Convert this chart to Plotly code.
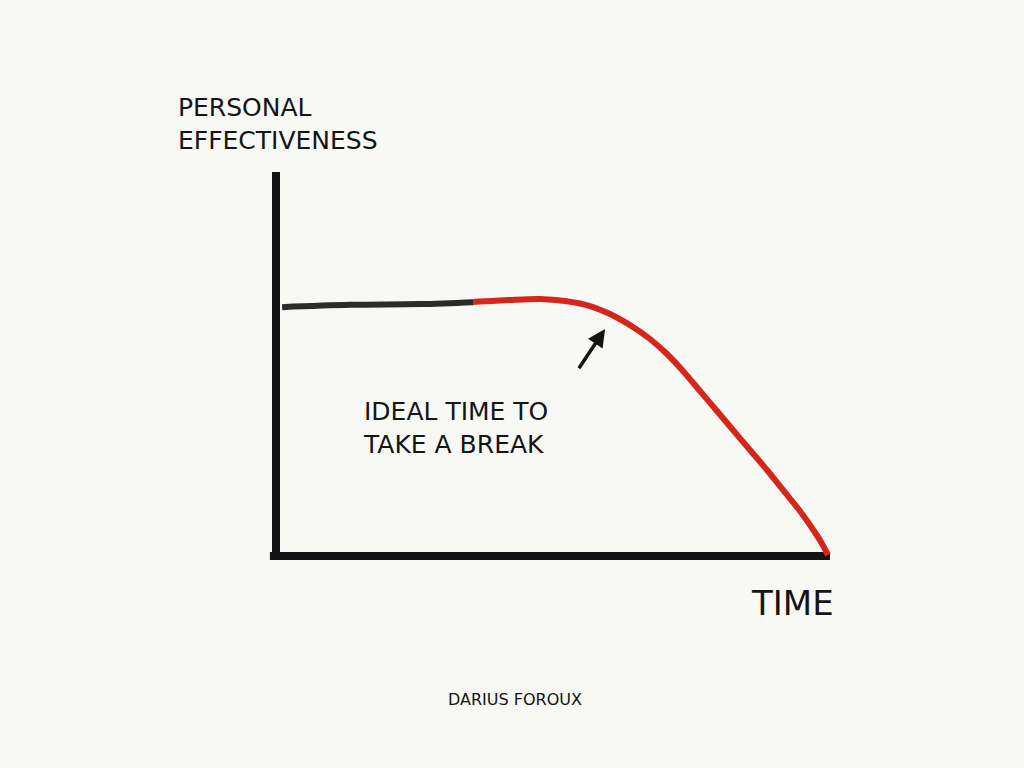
"""
Effectiveness over time sketch: flat plateau, then a drop-off.
Hand-drawn style chart recreated in Plotly.
"""

import plotly.graph_objects as go

# time (0-100) vs personal effectiveness (0-100)
T_PLATEAU = [1.1, 13.4, 26.0, 35.6]
E_PLATEAU = [64.8, 65.4, 65.6, 66.1]

T_DECLINE = [35.56, 42.24, 47.65, 52.17, 56.68, 60.29, 64.44, 67.51, 70.58, 73.47,
             76.53, 79.60, 82.49, 85.56, 88.63, 91.52, 94.58, 96.75, 98.38, 99.64]
E_DECLINE = [66.15, 66.67, 66.93, 66.41, 65.10, 63.02, 59.64, 56.51, 52.60, 48.18,
             42.97, 37.76, 32.81, 27.60, 22.40, 17.19, 11.72, 7.29, 3.65, 0.26]

AXIS_T = [0, 100]
AXIS_E = [0, 100]

BG = "#f8f8f4"
INK = "#141414"
RED = "#d4261b"
FONT = "DejaVu Sans"

fig = go.Figure()

# axes drawn as strokes
fig.add_trace(go.Scatter(x=[AXIS_T[0], AXIS_T[0]], y=[AXIS_E[1], AXIS_E[0] - 0.6],
                         mode="lines", line=dict(color=INK, width=8),
                         hoverinfo="skip", showlegend=False))
fig.add_trace(go.Scatter(x=[AXIS_T[0] - 1.1, AXIS_T[1]], y=[AXIS_E[0], AXIS_E[0]],
                         mode="lines", line=dict(color=INK, width=8),
                         hoverinfo="skip", showlegend=False))

# curve
fig.add_trace(go.Scatter(x=T_PLATEAU, y=E_PLATEAU, mode="lines",
                         line=dict(color="#2b2b2b", width=6, shape="spline"),
                         hoverinfo="skip", showlegend=False))
fig.add_trace(go.Scatter(x=T_DECLINE, y=E_DECLINE, mode="lines",
                         line=dict(color=RED, width=6, shape="spline", smoothing=0.8),
                         hoverinfo="skip", showlegend=False))

# text labels
fig.add_annotation(x=-18.1, y=121.0, xanchor="left", yanchor="top", align="left",
                   text="PERSONAL<br>EFFECTIVENESS", showarrow=False,
                   font=dict(family=FONT, size=25, color=INK))
fig.add_annotation(x=15.3, y=41.8, xanchor="left", yanchor="top", align="left",
                   text="IDEAL TIME TO<br>TAKE A BREAK", showarrow=False,
                   font=dict(family=FONT, size=25, color=INK))
fig.add_annotation(x=101.1, y=-6.5, xanchor="right", yanchor="top",
                   text="TIME", showarrow=False,
                   font=dict(family=FONT, size=34, color=INK))
fig.add_annotation(x=515 / 1024, y=(768 - 699) / 768, xref="paper", yref="paper",
                   xanchor="center", yanchor="middle",
                   text="DARIUS FOROUX", showarrow=False,
                   font=dict(family=FONT, size=16, color=INK))

# arrow to the knee of the curve
fig.add_annotation(x=59.4, y=59.1, ax=54.5, ay=48.5, xref="x", yref="y",
                   axref="x", ayref="y", text="", showarrow=True,
                   arrowhead=2, arrowsize=1.0, arrowwidth=3.5, arrowcolor=INK)

fig.update_layout(
    width=1024, height=768,
    margin=dict(l=0, r=0, t=0, b=0),
    paper_bgcolor=BG, plot_bgcolor=BG,
    xaxis=dict(range=[-49.82, 135.02], visible=False, fixedrange=True),
    yaxis=dict(range=[-55.21, 144.79], visible=False, fixedrange=True),
)

fig.write_html(
    "out.html",
    config={"displayModeBar": False},
    post_script="document.body.style.margin='0';"
                "document.body.style.background='" + BG + "';",
)
